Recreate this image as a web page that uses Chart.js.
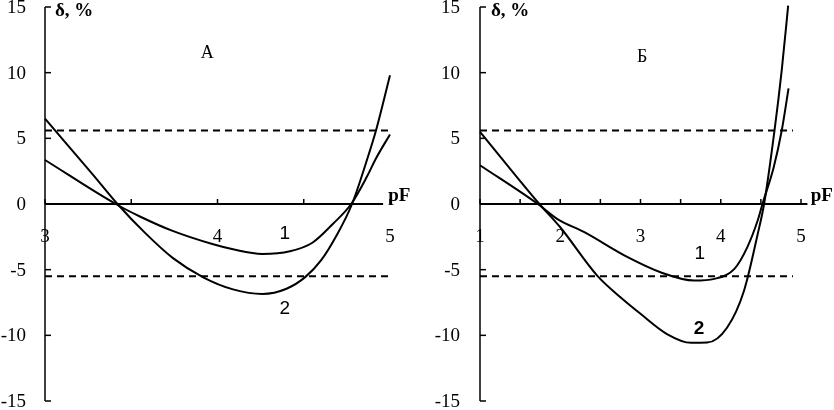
<!DOCTYPE html>
<html><head><meta charset="utf-8">
<script src="https://cdn.jsdelivr.net/npm/chart.js@4.4.1/dist/chart.umd.min.js"></script>
<style>
html,body{margin:0;padding:0;background:#fff;width:834px;height:410px;overflow:hidden}
canvas{position:absolute;top:0}
#cA{left:0}#cB{left:417px}
</style></head><body>
<canvas id="cA" width="417" height="410"></canvas>
<canvas id="cB" width="417" height="410"></canvas>
<script>
// ---- data ----
const yTickValues = [15, 10, 5, 0, -5, -10, -15];
const yTickLabels = ["15", "10", "5", "0", "-5", "-10", "-15"];
const thresholdUpper = 5.6;
const thresholdLower = -5.5;

// Panel А
const pfA1 = [3.0, 3.41, 3.55, 3.74, 3.97, 4.09, 4.26, 4.42, 4.55, 4.67, 4.775, 4.865, 4.92, 5.0];
const deltaA1 = [3.35, 0, -0.95, -2.05, -3.05, -3.45, -3.8, -3.6, -2.95, -1.5, 0, 2.05, 3.5, 5.3];
const pfA2 = [3.0, 3.13, 3.28, 3.42, 3.58, 3.74, 3.92, 4.09, 4.26, 4.40, 4.51, 4.60, 4.69, 4.78, 4.87, 4.92, 5.0];
const deltaA2 = [6.5, 4.5, 2.2, 0, -2.2, -4.1, -5.6, -6.5, -6.85, -6.45, -5.55, -4.3, -2.4, 0, 3.5, 5.65, 9.8];
const xTicksA = [3, 3.5, 4, 4.5, 5];
const xLabelValuesA = [3, 4, 5];
const xLabelsA = ["3", "4", "5"];

// Panel Б
const pfB1 = [1.0, 1.72, 1.96, 2.30, 2.84, 3.25, 3.67, 3.92, 4.17, 4.33, 4.46, 4.52, 4.66, 4.76, 4.845];
const deltaB1 = [2.95, 0, -1.13, -2.15, -4.05, -5.2, -5.83, -5.7, -4.94, -3.3, -1.26, 0, 2.8, 5.6, 8.8];
const pfB2 = [1.0, 1.74, 2.0, 2.46, 2.75, 3.0, 3.33, 3.63, 3.83, 4.08, 4.29, 4.46, 4.54, 4.67, 4.76, 4.84];
const deltaB2 = [5.5, 0, -1.77, -5.45, -7.1, -8.36, -9.9, -10.57, -10.55, -9.4, -6.6, -2.3, 0, 5.6, 10.2, 15.1];
const xTicksB = [1, 1.5, 2, 2.5, 3, 3.5, 4, 4.5, 5];
const xLabelValuesB = [1, 2, 3, 4, 5];
const xLabelsB = ["1", "2", "3", "4", "5"];

const zip = (xs, ys) => xs.map((x, i) => ({x: x, y: ys[i]}));

const axesPlugin = {
  id: 'axesDraw',
  beforeDatasetsDraw(chart, args, o) {
    const ctx = chart.ctx, xs = chart.scales.x, ys = chart.scales.y;
    const x0 = xs.getPixelForValue(o.xMin), y0 = ys.getPixelForValue(0);
    ctx.save();
    ctx.strokeStyle = '#000'; ctx.fillStyle = '#000';
    ctx.lineWidth = 1.5;
    ctx.beginPath(); ctx.moveTo(x0, ys.getPixelForValue(15)); ctx.lineTo(x0, ys.getPixelForValue(-15)); ctx.stroke();
    yTickValues.forEach(v => { const py = ys.getPixelForValue(v); ctx.beginPath(); ctx.moveTo(x0, py); ctx.lineTo(x0 + 6, py); ctx.stroke(); });
    ctx.font = '19px "Liberation Serif", "Times New Roman", serif';
    ctx.textAlign = 'right'; ctx.textBaseline = 'middle';
    yTickValues.forEach((v, i) => ctx.fillText(yTickLabels[i], x0 - o.yLabelGap, ys.getPixelForValue(v) + 1));
    ctx.lineWidth = 2;
    ctx.beginPath(); ctx.moveTo(x0, y0); ctx.lineTo(xs.getPixelForValue(o.axisEnd), y0); ctx.stroke();
    ctx.lineWidth = 1.5;
    o.xTicks.forEach(v => { const px = xs.getPixelForValue(v); ctx.beginPath(); ctx.moveTo(px, y0); ctx.lineTo(px, y0 - 5); ctx.stroke(); });
    ctx.textAlign = 'center';
    o.xLabelValues.forEach((v, i) => ctx.fillText(o.xLabels[i], xs.getPixelForValue(v), y0 + 33));
    ctx.restore();
  },
  afterDraw(chart, args, o) {
    const ctx = chart.ctx, xs = chart.scales.x, ys = chart.scales.y;
    const x0 = xs.getPixelForValue(o.xMin), y0 = ys.getPixelForValue(0);
    ctx.save();
    ctx.fillStyle = '#000';
    ctx.textBaseline = 'alphabetic';
    ctx.textAlign = 'left';
    ctx.font = 'bold 19px "Liberation Serif", "Times New Roman", serif';
    ctx.fillText('δ, %', x0 + o.deltaOffset, 16);
    ctx.fillText('pF', xs.getPixelForValue(o.pfAt), y0 - 3);
    ctx.textAlign = 'center'; ctx.textBaseline = 'middle';
    ctx.font = '18px "Liberation Serif", "Times New Roman", serif';
    ctx.fillText(o.panel[0], xs.getPixelForValue(o.panel[1]), ys.getPixelForValue(o.panel[2]));
    o.curveLabels.forEach(c => {
      ctx.font = (c[3] ? 'bold ' : '') + '19px "Liberation Sans", Arial, sans-serif';
      ctx.fillText(c[0], xs.getPixelForValue(c[1]), ys.getPixelForValue(c[2]));
    });
    ctx.restore();
  }
};

function curve(data) {
  return {data: data, borderColor: '#000', borderWidth: 2, pointRadius: 0, showLine: true,
          cubicInterpolationMode: 'monotone', fill: false, clip: false};
}
function dashed(data) {
  return {data: data, borderColor: '#000', borderWidth: 2, borderDash: [7, 5], pointRadius: 0,
          showLine: true, fill: false, tension: 0};
}

function makeChart(id, cfg) {
  return new Chart(document.getElementById(id), {
    type: 'scatter',
    data: {datasets: [
      curve(zip(cfg.pf1, cfg.d1)),
      curve(zip(cfg.pf2, cfg.d2)),
      dashed([{x: cfg.xMin, y: thresholdUpper}, {x: cfg.dashEnd, y: thresholdUpper}]),
      dashed([{x: cfg.xMin, y: thresholdLower}, {x: cfg.dashEnd, y: thresholdLower}])
    ]},
    options: {
      responsive: false, animation: false, devicePixelRatio: 1,
      layout: {padding: cfg.padding},
      plugins: {legend: {display: false}, tooltip: {enabled: false},
        axesDraw: cfg.draw},
      scales: {
        x: {type: 'linear', min: cfg.xMin, max: cfg.xMax, display: false},
        y: {type: 'linear', min: -15, max: 15, display: false}
      }
    },
    plugins: [axesPlugin]
  });
}

makeChart('cA', {
  pf1: pfA1, d1: deltaA1, pf2: pfA2, d2: deltaA2, xMin: 3, xMax: 5, dashEnd: 5,
  padding: {left: 45, right: 27, top: 7, bottom: 9},
  draw: {xMin: 3, axisEnd: 4.96, xTicks: xTicksA, xLabelValues: xLabelValuesA, xLabels: xLabelsA,
         yLabelGap: 19, deltaOffset: 10, pfAt: 4.99,
         panel: ['А', 3.94, 11.5],
         curveLabels: [['1', 4.39, -2.3, false], ['2', 4.39, -8.0, false]]}
});
makeChart('cB', {
  pf1: pfB1, d1: deltaB1, pf2: pfB2, d2: deltaB2, xMin: 1, xMax: 5, dashEnd: 4.9,
  padding: {left: 63, right: 33, top: 7, bottom: 9},
  draw: {xMin: 1, axisEnd: 5.08, xTicks: xTicksB, xLabelValues: xLabelValuesB, xLabels: xLabelsB,
         yLabelGap: 20, deltaOffset: 11, pfAt: 5.12,
         panel: ['Б', 3.02, 11.2],
         curveLabels: [['1', 3.74, -3.76, false], ['2', 3.73, -9.5, true]]}
});
</script>
</body></html>
